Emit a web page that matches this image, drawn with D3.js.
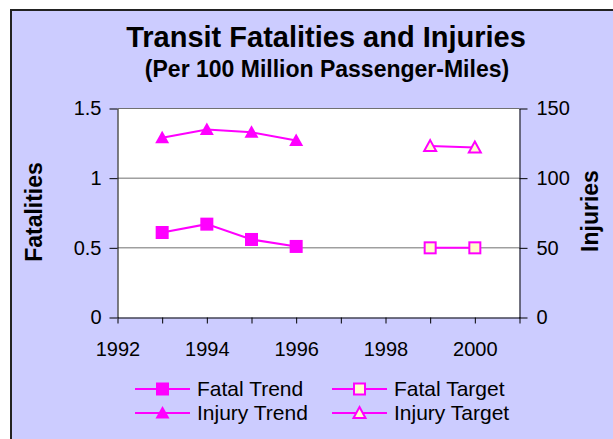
<!DOCTYPE html>
<html>
<head>
<meta charset="utf-8">
<script src="https://cdn.jsdelivr.net/npm/d3@7"></script>
<style>
  body { margin: 0; background: #fff; }
  svg { display: block; font-family: Arial, "Liberation Sans", sans-serif; }
</style>
</head>
<body>
<svg id="chart" width="613" height="439"></svg>
<script>
// values
const trendYears = [1993, 1994, 1995, 1996];
const targetYears = [1999, 2000];
const fatalTrend = [0.61, 0.67, 0.56, 0.51];
const injuryTrend = [129, 135, 133, 127];
const fatalTarget = [0.5, 0.5];
const injuryTarget = [123, 122];
const leftTicks = [0, 0.5, 1, 1.5];
const rightTicks = [0, 50, 100, 150];
const xTicks = [1992, 1993, 1994, 1995, 1996, 1997, 1998, 1999, 2000, 2001];

const pink = '#ff00ff';
const paleFill = '#ffffcc';

const svg = d3.select('#chart');

// lavender panel with border
svg.append('rect')
    .attr('x', 11).attr('y', 10)
    .attr('width', 620).attr('height', 450)
    .attr('fill', '#ccccff')
    .attr('stroke', '#222').attr('stroke-width', 2);

const plotL = 117.5, plotR = 519.5, plotT = 108.5, plotB = 317.5;

const x = d3.scaleLinear().domain([1992, 2001]).range([plotL, plotR]);
const yL = d3.scaleLinear().domain([0, 1.5]).range([plotB, plotT]);
const yR = d3.scaleLinear().domain([0, 150]).range([plotB, plotT]);

svg.append('rect')
    .attr('x', plotL).attr('y', plotT)
    .attr('width', plotR - plotL).attr('height', plotB - plotT)
    .attr('fill', '#fff');

// gridlines
svg.append('g').selectAll('line').data(leftTicks.slice(1)).enter().append('line')
    .attr('x1', plotL).attr('x2', plotR)
    .attr('y1', d => yL(d)).attr('y2', d => yL(d))
    .attr('stroke', '#707070').attr('stroke-width', 1);

function styleAxis(g) {
    g.selectAll('path, line').attr('stroke', '#000');
    g.selectAll('text').attr('font-size', 20).attr('fill', '#000')
        .attr('font-family', 'Arial, "Liberation Sans", sans-serif');
}

svg.append('g')
    .attr('transform', `translate(${plotL},0)`)
    .call(d3.axisLeft(yL).tickValues(leftTicks).tickSize(8).tickSizeOuter(0).tickPadding(8).tickFormat(d3.format('')))
    .call(styleAxis);

svg.append('g')
    .attr('transform', `translate(${plotR},0)`)
    .call(d3.axisRight(yR).tickValues(rightTicks).tickSize(8).tickSizeOuter(0).tickPadding(9).tickFormat(d3.format('')))
    .call(styleAxis);

svg.append('g')
    .attr('transform', `translate(0,${plotB})`)
    .call(d3.axisBottom(x).tickValues(xTicks).tickSize(6).tickSizeOuter(0).tickPadding(18)
        .tickFormat(d => d % 2 === 0 && d < 2001 ? String(d) : ''))
    .call(styleAxis);

// titles
svg.append('text')
    .attr('x', 326).attr('y', 47)
    .attr('text-anchor', 'middle')
    .attr('font-size', 29).attr('font-weight', 'bold')
    .text('Transit Fatalities and Injuries');

svg.append('text')
    .attr('x', 327).attr('y', 77)
    .attr('text-anchor', 'middle')
    .attr('font-size', 23).attr('font-weight', 'bold')
    .text('(Per 100 Million Passenger-Miles)');

svg.append('text')
    .attr('transform', 'translate(42,212) rotate(-90)')
    .attr('text-anchor', 'middle')
    .attr('font-size', 23).attr('font-weight', 'bold')
    .text('Fatalities');

svg.append('text')
    .attr('transform', 'translate(598,211) rotate(-90)')
    .attr('text-anchor', 'middle')
    .attr('font-size', 23).attr('font-weight', 'bold')
    .text('Injuries');

// series
const series = [
    {name: 'Fatal Trend', years: trendYears, values: fatalTrend, scale: yL, shape: 'square', hollow: false},
    {name: 'Fatal Target', years: targetYears, values: fatalTarget, scale: yL, shape: 'square', hollow: true},
    {name: 'Injury Trend', years: trendYears, values: injuryTrend, scale: yR, shape: 'triangle', hollow: false},
    {name: 'Injury Target', years: targetYears, values: injuryTarget, scale: yR, shape: 'triangle', hollow: true}
];

function marker(g, shape, hollow) {
    if (shape === 'square') {
        const s = hollow ? 11 : 13;
        g.append('rect')
            .attr('x', -s / 2).attr('y', -s / 2)
            .attr('width', s).attr('height', s)
            .attr('fill', hollow ? paleFill : pink)
            .attr('stroke', pink).attr('stroke-width', hollow ? 2 : 0);
    } else {
        g.append('path')
            .attr('d', hollow ? 'M0,-6L6,5L-6,5Z' : 'M0,-7L7,5.5L-7,5.5Z')
            .attr('fill', hollow ? paleFill : pink)
            .attr('stroke', pink).attr('stroke-width', hollow ? 2 : 0);
    }
}

series.forEach(s => {
    const pts = s.years.map((yr, i) => [x(yr), s.scale(s.values[i])]);
    svg.append('path')
        .attr('d', d3.line()(pts))
        .attr('fill', 'none')
        .attr('stroke', pink).attr('stroke-width', 2);
    pts.forEach(p => {
        const g = svg.append('g').attr('transform', `translate(${p[0]},${p[1]})`);
        marker(g, s.shape, s.hollow);
    });
});

// legend
series.forEach((s, i) => {
    const col = i % 2, row = Math.floor(i / 2);
    const lx = col === 0 ? 135 : 332;
    const ly = row === 0 ? 389 : 413;
    const g = svg.append('g').attr('transform', `translate(${lx},${ly})`);
    g.append('line').attr('x1', 0).attr('x2', 55).attr('y1', 0).attr('y2', 0)
        .attr('stroke', pink).attr('stroke-width', 2);
    const m = g.append('g').attr('transform', 'translate(27.5,0)');
    marker(m, s.shape, s.hollow);
    g.append('text')
        .attr('x', 62).attr('y', 7)
        .attr('font-size', 21)
        .text(s.name);
});
</script>
</body>
</html>
